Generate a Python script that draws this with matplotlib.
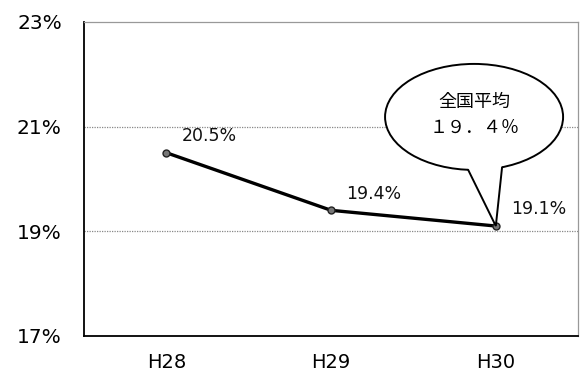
import matplotlib
matplotlib.use("Agg")
import numpy as np
import matplotlib.pyplot as plt
from matplotlib.patches import Ellipse, Polygon

categories = ["H28", "H29", "H30"]
values = [20.5, 19.4, 19.1]
labels = ["20.5%", "19.4%", "19.1%"]
yticks = [17, 19, 21, 23]
ytick_labels = ["17%", "19%", "21%", "23%"]
national_title = "全国平均"
national_value = "１９．４％"

plt.rcParams['font.family'] = ['DejaVu Sans', 'Noto Sans CJK JP']

fig = plt.figure(figsize=(5.84, 3.72), dpi=100)
ax = fig.add_axes([0.144, 0.097, 0.846, 0.844])

x = list(range(len(categories)))
ax.plot(x, values, color='black', lw=2.4, marker='o', markersize=5,
        markerfacecolor='#777777', markeredgecolor='#222222', zorder=4)

for xi, v, lab in zip(x, values, labels):
    ax.annotate(lab, (xi, v), xytext=(31, 12), textcoords='offset points',
                ha='center', va='center', fontsize=12.5, color='#111111')

ax.set_xlim(-0.5, len(categories) - 0.5)
ax.set_ylim(yticks[0], yticks[-1])
ax.set_xticks(x)
ax.set_xticklabels(categories, fontsize=14)
ax.set_yticks(yticks)
ax.set_yticklabels(ytick_labels, fontsize=14.5)
ax.tick_params(axis='both', length=0)
ax.tick_params(axis='y', pad=16)
ax.tick_params(axis='x', pad=12)

for yv in yticks[1:-1]:
    ax.axhline(yv, color='#888888', lw=0.9, ls=(0, (1, 1)), zorder=1)

ax.spines['left'].set_color('black')
ax.spines['left'].set_linewidth(1.3)
ax.spines['bottom'].set_color('black')
ax.spines['bottom'].set_linewidth(1.3)
for s in ['top', 'right']:
    ax.spines[s].set_color('#999999')
    ax.spines[s].set_linewidth(0.9)

# Speech balloon pointing at the H30 point
tx, ty = x[2], values[2]
cx, cy = tx - 0.132, ty + 2.085
ew, eh = 1.081, 2.026
ell = Ellipse((cx, cy), ew, eh, facecolor='white', edgecolor='black',
              lw=1.4, zorder=5)
ax.add_patch(ell)

def edge_y(px):
    dx = (px - cx) / (ew / 2)
    return cy - (eh / 2) * np.sqrt(1 - dx * dx)

blx, brx = tx - 0.168, tx + 0.038
bl = (blx, edge_y(blx))
br = (brx, edge_y(brx))
cover = Polygon([(blx, bl[1] + 0.15), bl, (tx, ty), br, (brx, br[1] + 0.15)],
                closed=True, facecolor='white', edgecolor='none', zorder=6)
ax.add_patch(cover)
ax.plot([bl[0], tx, br[0]], [bl[1], ty, br[1]], color='black', lw=1.4,
        zorder=7, solid_joinstyle='miter', solid_capstyle='round')
ax.text(cx, cy + 0.28, national_title, ha='center', va='center', fontsize=13,
        family=['Noto Sans CJK JP'], zorder=8)
ax.text(cx, cy - 0.21, national_value, ha='center', va='center', fontsize=13,
        family=['Noto Sans CJK JP'], zorder=8)

fig.savefig("out.png", dpi=100)
